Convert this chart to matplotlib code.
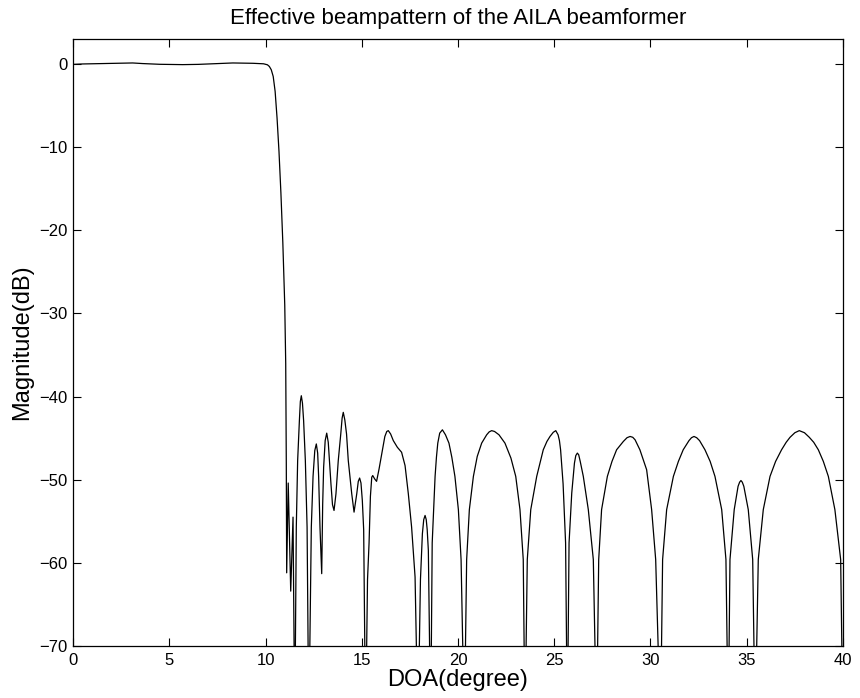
import numpy as np
import matplotlib
matplotlib.use("Agg")
import matplotlib.pyplot as plt

plt.rcParams['font.family'] = ['Liberation Sans', 'DejaVu Sans']

# values (DOA in degree, magnitude in dB)
# nulls are given a value below the axis so the line runs off the bottom
doa_main = [0, 0.5, 1.5, 2.5, 3.1, 3.6, 4.5, 5.7, 6.5, 7.5, 8.3, 9.35, 9.9,
            10.1, 10.2, 10.3, 10.4, 10.5, 10.6, 10.7, 10.8, 10.9, 11.0, 11.05,
            11.08, 11.1]
mag_main = [-0.05, 0.0, 0.05, 0.1, 0.12, 0.05, -0.04, -0.08, -0.05, 0.04, 0.12, 0.08, 0.02,
            -0.1, -0.3, -0.7, -1.5, -3.3, -6.5, -10.5, -15.5, -21.5, -29, -36,
            -48, -61.2]

doa_near = [11.18, 11.31, 11.43, 11.52,
            11.6, 11.67, 11.76, 11.81, 11.86, 11.92, 11.98, 12.07, 12.16, 12.25,
            12.38, 12.47, 12.56, 12.64, 12.71, 12.76, 12.83, 12.92,
            12.97, 13.02, 13.1, 13.18, 13.26, 13.32, 13.4, 13.48, 13.56,
            13.66, 13.78, 13.91, 13.98, 14.04, 14.12, 14.21, 14.3, 14.48, 14.6,
            14.74, 14.82, 14.89, 14.96, 15.03, 15.1, 15.2]
mag_near = [-50.4, -63.4, -54.5, -80,
            -55.7, -47.7, -42.9, -40.6, -39.9, -40.8, -42.9, -47.7, -55.7, -80,
            -55.7, -49.6, -46.5, -45.7, -46.8, -49.6, -55.7, -61.3,
            -53, -48.5, -45.3, -44.4, -45.5, -47.7, -50.5, -53, -53.7,
            -51.7, -47.7, -44.5, -42.6, -41.9, -42.8, -44.5, -47.7, -51.7, -53.9,
            -51.7, -50.2, -49.8, -50.4, -52.5, -56, -80]

doa_mid = [15.3, 15.38, 15.45, 15.52, 15.57, 15.67, 15.77, 15.9, 16.04, 16.2, 16.3, 16.38,
           16.5, 16.64, 16.85, 17.07, 17.25, 17.42, 17.59, 17.77, 17.92,
           18.05, 18.15, 18.22, 18.29, 18.35, 18.4, 18.46, 18.58,
           18.66, 18.81, 18.88, 18.95, 19.05, 19.19, 19.35, 19.53, 19.68, 19.84, 20.02, 20.16, 20.33,
           20.45, 20.59, 20.8, 21.0, 21.23, 21.49, 21.62, 21.75, 21.9, 22.13, 22.44, 22.75, 23.0,
           23.22, 23.39, 23.48]
mag_mid = [-62, -57.6, -52, -49.7, -49.5, -49.9, -50.2, -48.7, -46.9, -44.8, -44.2, -44.1,
           -44.5, -45.3, -46.1, -46.7, -48.3, -51.7, -55.7, -61.7, -80,
           -62, -56.5, -54.8, -54.3, -54.8, -56, -58.5, -80,
           -57.6, -49.6, -47.3, -45.6, -44.4, -44.0, -44.6, -45.6, -47.3, -49.6, -53.6, -59.6, -80,
           -59.6, -53.6, -49.6, -47.2, -45.6, -44.6, -44.25, -44.1, -44.2, -44.6, -45.6, -47.4, -49.6,
           -53.6, -59.6, -80]

doa_far = [23.6, 23.78, 24.09, 24.43, 24.62, 24.78, 24.95, 25.08, 25.2, 25.27, 25.33, 25.46, 25.59, 25.68,
           25.77, 25.91, 26.05, 26.12, 26.2, 26.27, 26.35, 26.51, 26.77, 27.03, 27.2,
           27.31, 27.46, 27.76, 28.0, 28.24, 28.59, 28.78, 28.94, 29.08, 29.2, 29.45, 29.8, 30.06, 30.27, 30.52,
           30.63, 30.84, 31.19, 31.45, 31.7, 32.0, 32.13, 32.26, 32.4, 32.55, 32.83, 33.1, 33.35, 33.7, 33.92, 34.04,
           34.13, 34.35, 34.55, 34.63, 34.7, 34.77, 34.85, 35.08, 35.31, 35.44,
           35.6, 35.86, 36.21, 36.5, 36.81, 37.05, 37.25, 37.5, 37.73, 38.0, 38.25, 38.48, 38.72,
           38.98, 39.24, 39.58, 39.88, 40.0]
mag_far = [-59.6, -53.6, -49.6, -46.4, -45.4, -44.8, -44.3, -44.1, -44.6, -45.3, -46.4, -50.5, -57.6, -80,
           -57.6, -51.6, -48.0, -47.1, -46.8, -47.0, -47.8, -49.6, -53.6, -59.6, -80,
           -59.6, -53.6, -49.6, -47.8, -46.4, -45.4, -44.95, -44.8, -44.9, -45.2, -46.4, -48.8, -53.6, -59.6, -80,
           -59.6, -53.6, -49.6, -47.8, -46.4, -45.3, -44.95, -44.8, -44.95, -45.3, -46.4, -47.8, -49.6, -53.6, -59.6, -80,
           -59.6, -53.6, -50.8, -50.3, -50.1, -50.3, -50.8, -53.6, -59.6, -80,
           -59.6, -53.6, -49.6, -47.8, -46.4, -45.5, -44.9, -44.35, -44.1, -44.35, -44.9, -45.5, -46.4,
           -47.8, -49.6, -53.6, -59.6, -80]

doa = np.array(doa_main + doa_near + doa_mid + doa_far)
mag = np.array(mag_main + mag_near + mag_mid + mag_far)

fig = plt.figure(figsize=(8.6, 6.98), dpi=100)
ax = fig.add_axes([0.0849, 0.0745, 0.8953, 0.8696])

ax.plot(doa, mag, color='black', linewidth=0.9, solid_joinstyle='round')

ax.set_xlim(0, 40)
ax.set_ylim(-70, 3)
ax.set_xticks(np.arange(0, 41, 5))
ax.set_yticks(np.arange(-70, 1, 10))
ax.set_yticklabels(['\u221270', '\u221260', '\u221250', '\u221240', '\u221230', '\u221220', '\u221210', '0'])
ax.tick_params(direction='in', length=6, width=0.8, top=True, right=True, labelsize=12)
ax.tick_params(axis='x', pad=5)
ax.tick_params(axis='y', pad=4)
for s in ax.spines.values():
    s.set_linewidth(0.9)

ax.set_title('Effective beampattern of the AILA beamformer', fontsize=16, pad=11)
ax.set_xlabel('DOA(degree)', fontsize=17, labelpad=1)
ax.set_ylabel('Magnitude(dB)', fontsize=17, labelpad=4)

fig.savefig('out.png', dpi=100)
